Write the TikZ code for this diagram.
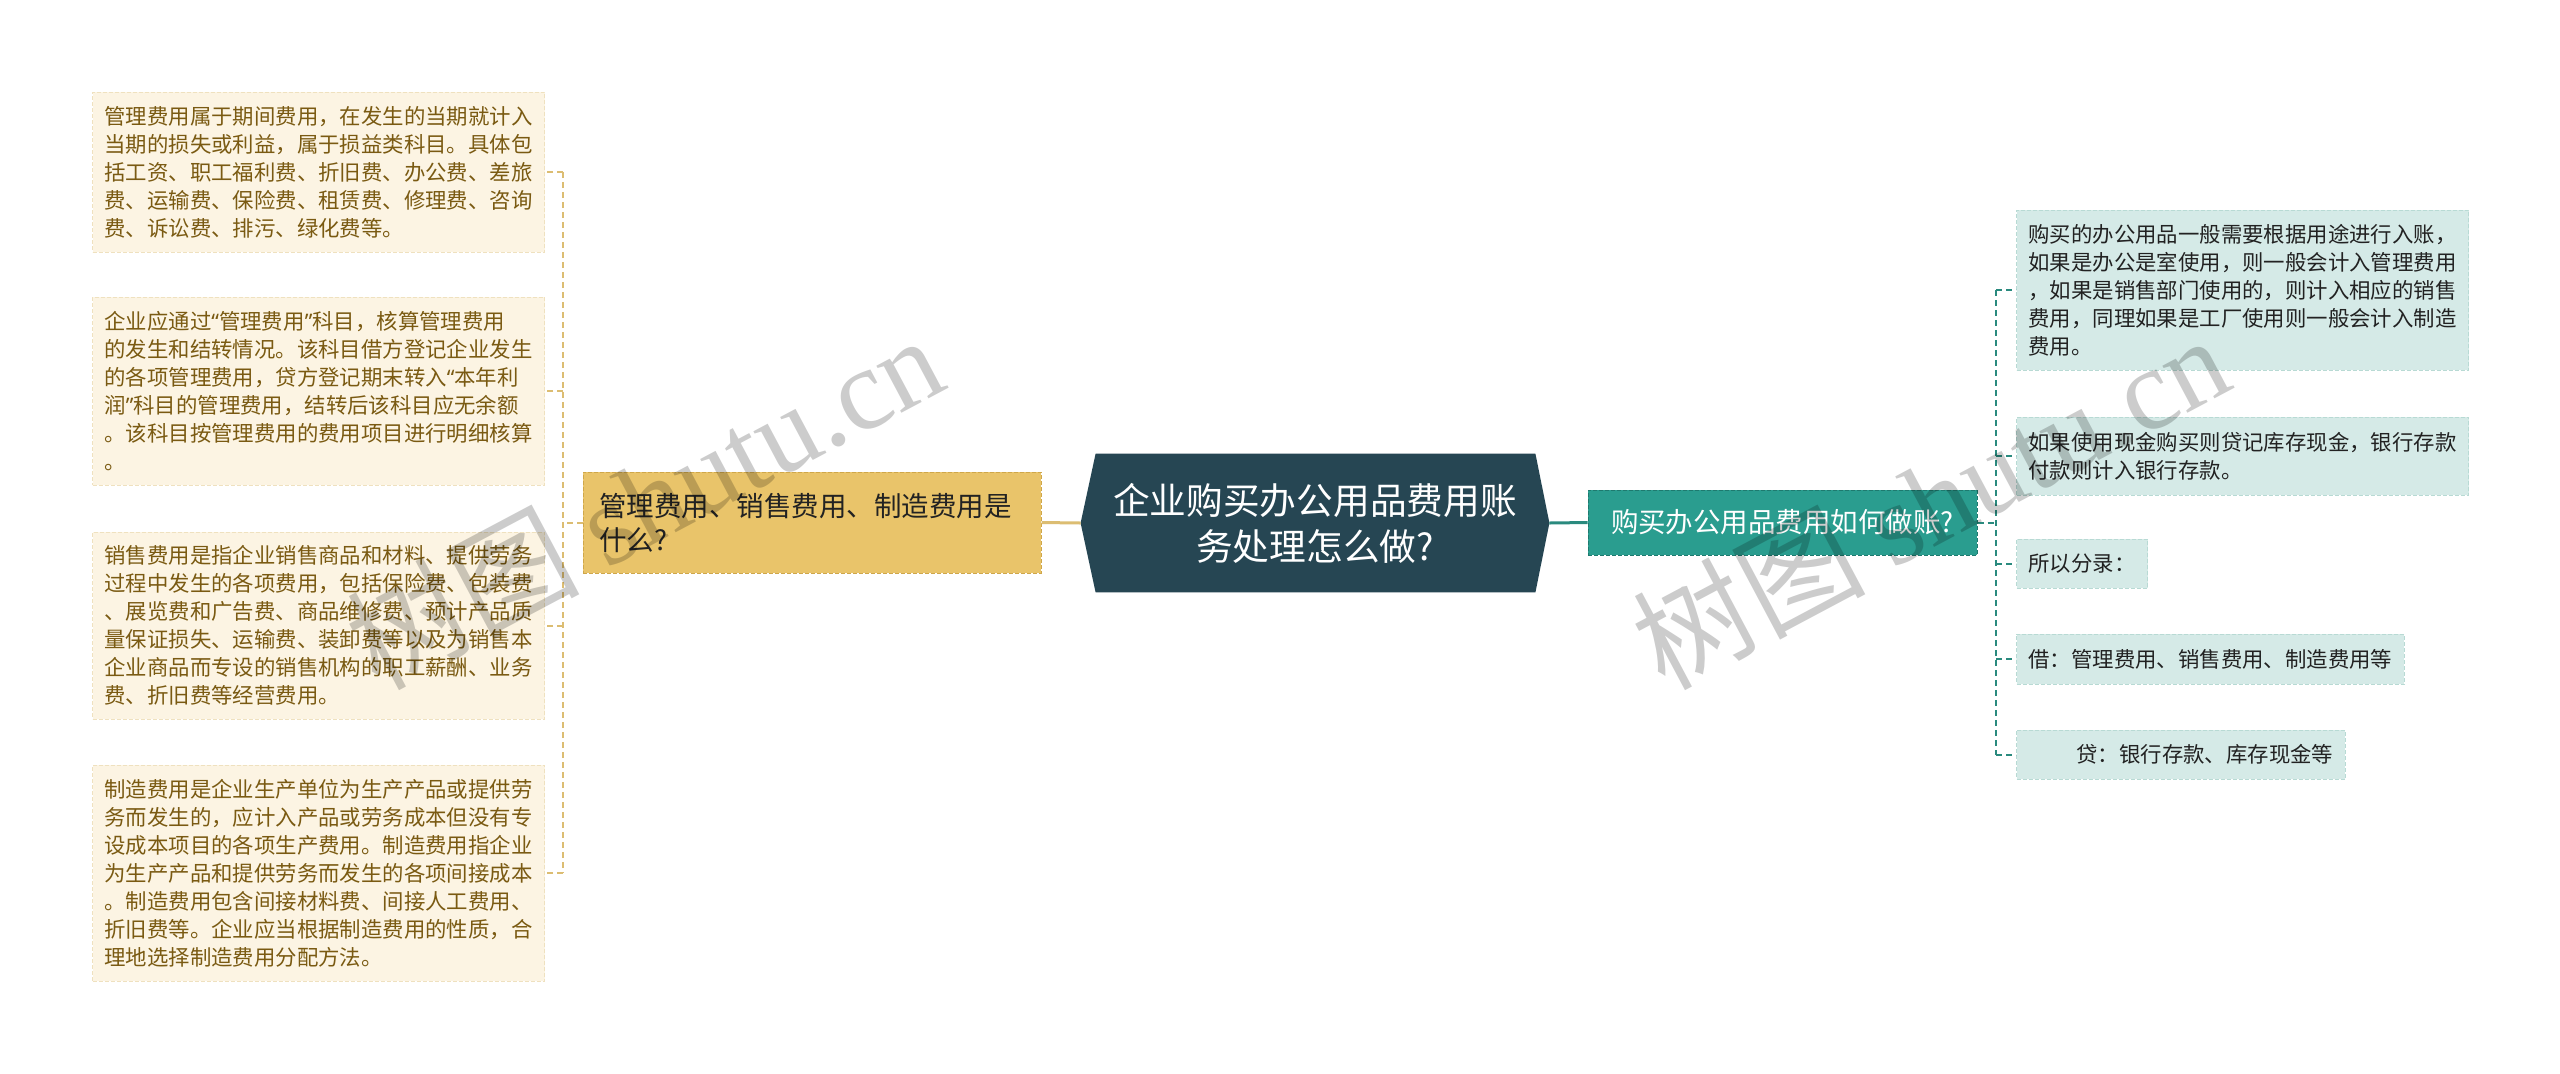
\documentclass[tikz,border=0pt]{standalone}
\usepackage{fontspec}
\setmainfont{Noto Sans CJK SC}
\newfontfamily\wmlatin{Liberation Serif}
\newfontfamily\qfont{Noto Sans}
\newcommand{\myoq}{{\qfont “}}
\newcommand{\mycq}{{\qfont ”}}
\usetikzlibrary{calc,backgrounds}
\definecolor{cdark}{HTML}{264653}
\definecolor{cteal}{HTML}{2A9D8F}
\definecolor{ctealb}{HTML}{1E7A6F}
\definecolor{cyellow}{HTML}{E9C46A}
\definecolor{cyellowb}{HTML}{CFA74A}
\definecolor{ccream}{HTML}{FCF4E3}
\definecolor{ccreamb}{HTML}{EFE1BF}
\definecolor{cbrown}{HTML}{7A5A12}
\definecolor{cmint}{HTML}{D5EAE7}
\definecolor{cmintb}{HTML}{B8DAD4}
\definecolor{cgoldline}{HTML}{DCBD72}
\definecolor{ctealline}{HTML}{2A8A7E}
\definecolor{ctext}{HTML}{222222}
\tikzset{
  boxborder/.style={line width=0.5pt, dash pattern=on 2pt off 1pt},
  leftbox/.style={boxborder, draw=ccreamb, fill=ccream, text=cbrown,
    font=\fontsize{10.7pt}{14pt}\selectfont, align=left, anchor=west,
    inner xsep=6pt, inner ysep=0pt, minimum width=226pt},
  rightbox/.style={boxborder, draw=cmintb, fill=cmint, text=ctext,
    font=\fontsize{10.7pt}{14pt}\selectfont, align=left, anchor=west,
    inner xsep=6pt, inner ysep=0pt},
  yellownode/.style={boxborder, draw=cyellowb, fill=cyellow, text=ctext,
    font=\fontsize{13.75pt}{17pt}\selectfont, align=left, text width=213pt,
    minimum width=229pt, minimum height=50.5pt, inner sep=0pt},
  tealnode/.style={boxborder, draw=ctealb, fill=cteal, text=white,
    font=\fontsize{13.75pt}{17pt}\selectfont, align=center,
    minimum width=194.5pt, minimum height=32.5pt, inner sep=0pt},
  centralnode/.style={text=white, font=\fontsize{18.35pt}{23pt}\selectfont,
    align=center, minimum width=234pt, minimum height=69pt, inner sep=0pt},
  goldconn/.style={draw=cgoldline, line width=1.5pt},
  golddash/.style={draw=cgoldline, line width=1pt, dash pattern=on 3pt off 2pt},
  tealconn/.style={draw=ctealline, line width=1.5pt},
  tealdash/.style={draw=ctealline, line width=1pt, dash pattern=on 3pt off 2pt},
  watermark/.style={rotate=28, text=black, text opacity=0.2, inner sep=0pt}
}
\begin{document}
\begin{tikzpicture}[x=0.5pt,y=-0.5pt]
\useasboundingbox (0,0) rectangle (2560,1073);

% central node
\node[centralnode] (c) at (1315,523) {企业购买办公用品费用账\\务处理怎么做?};
\begin{scope}[on background layer]
\fill[white] (0,0) rectangle (2560,1073);
\fill[cdark] (c.west) -- ($(c.north west)+(15,0)$) -- ($(c.north east)+(-14,0)$)
  -- (c.east) -- ($(c.south east)+(-14,0)$) -- ($(c.south west)+(15,0)$) -- cycle;
\end{scope}

% left branch
\node[yellownode] (q1) at (812,522.5) {管理费用、销售费用、制造费用是\\什么?};
\node[leftbox, minimum height=80pt] (b1) at (92,172) {管理费用属于期间费用，在发生的当期就计入\\当期的损失或利益，属于损益类科目。具体包\\括工资、职工福利费、折旧费、办公费、差旅\\费、运输费、保险费、租赁费、修理费、咨询\\费、诉讼费、排污、绿化费等。};
\node[leftbox, minimum height=94pt] (b2) at (92,391) {企业应通过\myoq 管理费用\mycq 科目，核算管理费用\\的发生和结转情况。该科目借方登记企业发生\\的各项管理费用，贷方登记期末转入\myoq 本年利\\润\mycq 科目的管理费用，结转后该科目应无余额\\。该科目按管理费用的费用项目进行明细核算\\。};
\node[leftbox, minimum height=93.5pt] (b3) at (92,625.5) {销售费用是指企业销售商品和材料、提供劳务\\过程中发生的各项费用，包括保险费、包装费\\、展览费和广告费、商品维修费、预计产品质\\量保证损失、运输费、装卸费等以及为销售本\\企业商品而专设的销售机构的职工薪酬、业务\\费、折旧费等经营费用。};
\node[leftbox, minimum height=108pt] (b4) at (92,873) {制造费用是企业生产单位为生产产品或提供劳\\务而发生的，应计入产品或劳务成本但没有专\\设成本项目的各项生产费用。制造费用指企业\\为生产产品和提供劳务而发生的各项间接成本\\。制造费用包含间接材料费、间接人工费用、\\折旧费等。企业应当根据制造费用的性质，合\\理地选择制造费用分配方法。};

\coordinate (lj) at (563,522.5);
\draw[goldconn] (q1.east) -- (c.west);
\draw[golddash] (q1.west) -- (lj);
\draw[golddash] (lj |- b1.east) -- (lj |- b4.east);
\foreach \b in {b1,b2,b3,b4} \draw[golddash] (lj |- \b.east) -- (\b.east);

% right branch
\node[tealnode] (t) at (1782.5,522.5) {购买办公用品费用如何做账?};
\node[rightbox, minimum width=226pt, minimum height=80pt] (r1) at (2016,290) {购买的办公用品一般需要根据用途进行入账，\\如果是办公是室使用，则一般会计入管理费用\\，如果是销售部门使用的，则计入相应的销售\\费用，同理如果是工厂使用则一般会计入制造\\费用。};
\node[rightbox, minimum width=226pt, minimum height=39pt] (r2) at (2016,456) {如果使用现金购买则贷记库存现金，银行存款\\付款则计入银行存款。};
\node[rightbox, minimum height=24.5pt] (r3) at (2016,563.5) {所以分录：};
\node[rightbox, minimum height=25pt] (r4) at (2016,659) {借：管理费用、销售费用、制造费用等};
\node[rightbox, minimum height=24.5pt] (r5) at (2016,754.5) {\hspace*{24pt}贷：银行存款、库存现金等};

\coordinate (rj) at (1996,522.5);
\draw[tealconn] (c.east) -- (t.west);
\draw[tealdash] (t.east) -- (rj);
\draw[tealdash] (rj |- r1.west) -- (rj |- r5.west);
\foreach \r in {r1,r2,r3,r4,r5} \draw[tealdash] (rj |- \r.west) -- (\r.west);

% watermarks
\node[watermark] (wm1) at (644,500) {\fontsize{58pt}{58pt}\selectfont 树图 {\wmlatin shutu.cn}};
\node[watermark] (wm2) at (1930,500) {\fontsize{58pt}{58pt}\selectfont 树图 {\wmlatin shutu.cn}};
\end{tikzpicture}
\end{document}
